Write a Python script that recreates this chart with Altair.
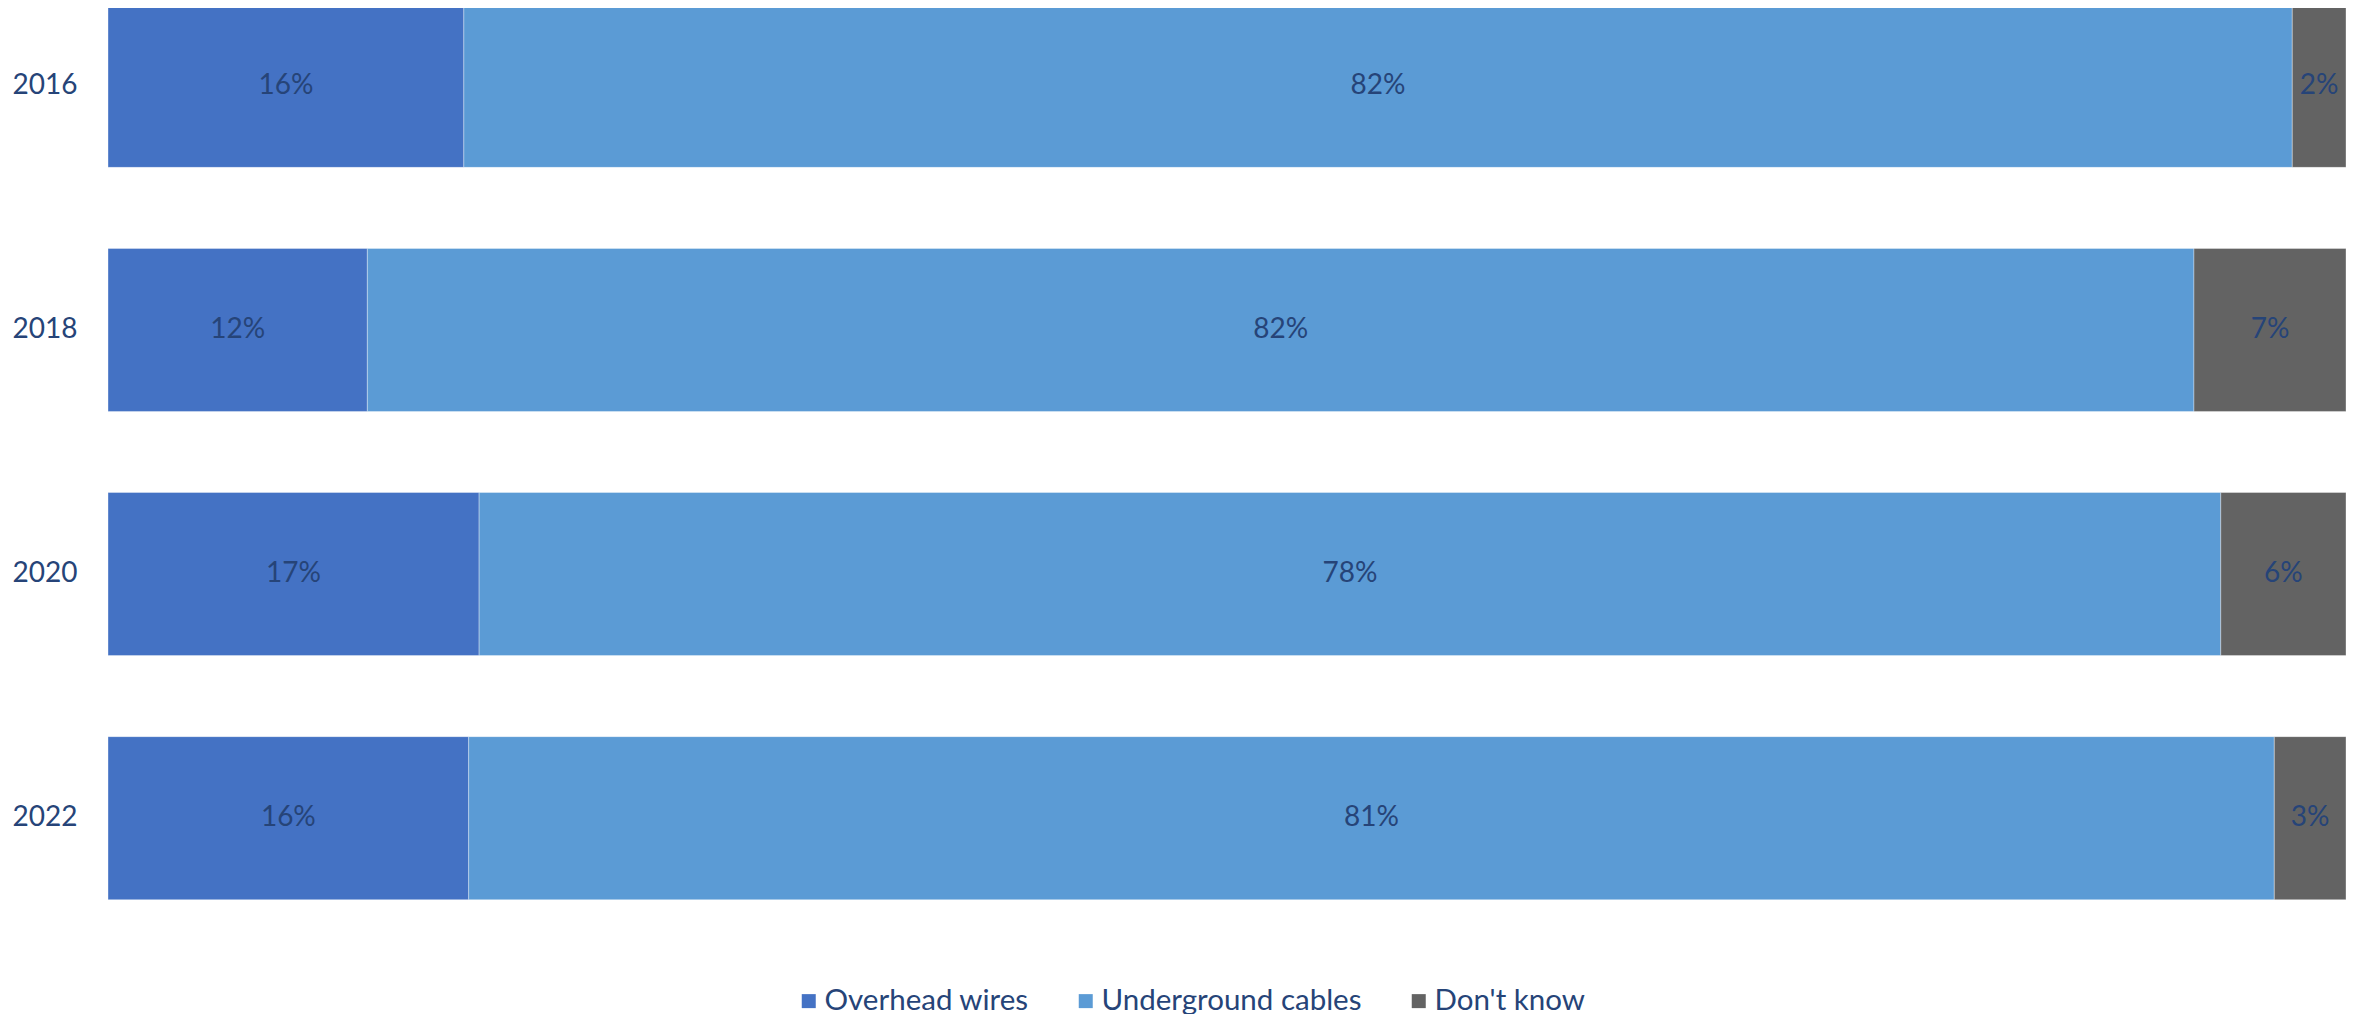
import altair as alt
import pandas as pd

years = ["2016", "2018", "2020", "2022"]
series = ["Overhead wires", "Underground cables", "Don't know"]
overhead = [15.9, 11.6, 16.6, 16.1]
underground = [81.7, 81.7, 77.9, 80.6]
dont_know = [2.4, 6.8, 5.6, 3.2]
colors = ["#4472C4", "#5B9BD5", "#636363"]

rows = []
for i, y in enumerate(years):
    for j, (s, vals) in enumerate(zip(series, [overhead, underground, dont_know])):
        rows.append({"year": y, "series": s, "order": j, "value": vals[i]})
df = pd.DataFrame(rows)

FONT = "Lato"
TXT = "#264478"

base = alt.Chart(df).transform_stack(
    stack="value", groupby=["year"], as_=["x0", "x1"], offset="normalize",
    sort=[alt.SortField("order", order="ascending")]
).transform_calculate(
    mid="(datum.x0 + datum.x1) / 2",
    label="format(datum.value, '.0f') + '%'"
)

yenc = alt.Y("year:N", sort=years, title=None,
             scale=alt.Scale(range=[-3.7, 891.7], paddingInner=0.332, paddingOuter=0),
             axis=alt.Axis(domain=False, ticks=False, labelFont=FONT, labelFontSize=28,
                           labelColor=TXT, labelPadding=31))

bars = base.mark_bar(stroke="white", strokeWidth=1, strokeOpacity=0.35).encode(
    x=alt.X("x0:Q", axis=None, scale=alt.Scale(domain=[0, 1])),
    x2="x1:Q",
    y=yenc,
    color=alt.Color("series:N", sort=series,
                    scale=alt.Scale(domain=series, range=colors),
                    legend=alt.Legend(title=None, orient="none", direction="horizontal",
                                      legendX=686, legendY=978,
                                      symbolType="square", symbolSize=196,
                                      symbolStrokeWidth=0, labelLimit=1000,
                                      labelFont=FONT, labelFontSize=29.5, labelColor=TXT,
                                      labelOffset=1, columnPadding=42)),
)

texts = base.mark_text(font=FONT, fontSize=28, color=TXT, baseline="middle", align="center").encode(
    x=alt.X("mid:Q", scale=alt.Scale(domain=[0, 1])),
    y=alt.Y("year:N", sort=years),
    text="label:N",
)

chart = alt.layer(bars, texts).properties(
    width=2238, height=900,
    autosize=alt.AutoSizeParams(type="none"),
    padding={"left": 100, "top": 0, "right": 0, "bottom": 112},
).configure_view(stroke=None)

chart.save("out.html", embed_options={"renderer": "svg", "actions": False})
